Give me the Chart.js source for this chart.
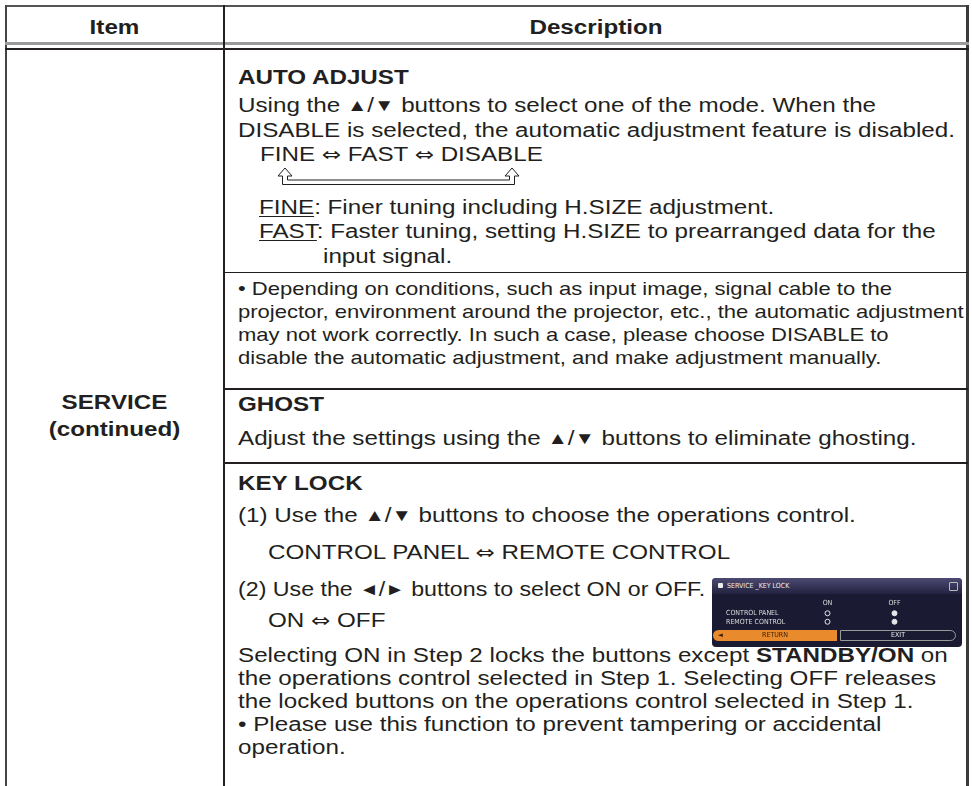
<!DOCTYPE html>
<html>
<head>
<meta charset="utf-8">
<script src="https://cdn.jsdelivr.net/npm/chart.js@4.4.1/dist/chart.umd.min.js"></script>
<style>
  body { margin: 0; background: #fff; width: 972px; height: 786px; overflow: hidden; position: relative;
         font-family: "Liberation Sans", Arial, sans-serif; color: #231f20; }
  .abs { position: absolute; }
  .ln { position: absolute; white-space: nowrap; font-size: 20px; line-height: 24px;
        transform: scaleX(1.21); transform-origin: 0 0; }
  .ctr { transform-origin: 50% 0; text-align: center; }
  .sm { font-size: 18.5px; transform: scaleX(1.19); }
  .b { font-weight: bold; }
  .hl { position: absolute; background: #231f20; }
  u { text-decoration-thickness: 1px; text-underline-offset: 2px; }
  .arr { font-family: "DejaVu Sans", sans-serif; font-size: 19px; }
  .tri { font-size: 17px; position: relative; top: -1px; }
  #panel { position: absolute; left: 712px; top: 578px; width: 250px; height: 69px; background: #1b1a33;
           border-radius: 4px; overflow: hidden; font-family: "DejaVu Sans Condensed", "DejaVu Sans", sans-serif; }
  #panel .title { position: absolute; left: 0; top: 0; width: 250px; height: 16px;
           background: linear-gradient(#4c4a72, #23223f); color: #eee; font-size: 7px; line-height: 17px; }
  #panel .ret { position: absolute; left: 1px; top: 52px; width: 124px; height: 11px; background: #e98a2c;
           border-radius: 6px 0 0 6px; color: #3a1e05; font-size: 7px; line-height: 11px; }
  #panel .exit { position: absolute; left: 128px; top: 52px; width: 114px; height: 9px; border: 1px solid #9a9a9a;
           border-radius: 0 6px 6px 0; color: #eee; font-size: 7px; line-height: 9px; text-align: center; }
</style>
</head>
<body>
<!-- table frame -->
<div class="hl" style="left:5px;top:5px;width:964px;height:2px;background:#555"></div>
<div class="hl" style="left:5px;top:5px;width:2px;height:781px;background:#444"></div>
<div class="hl" style="left:966px;top:5px;width:3px;height:781px;background:#3a3a3a"></div>
<div class="hl" style="left:5px;top:42px;width:964px;height:3px;background:#9b9b9b"></div>
<div class="hl" style="left:5px;top:48px;width:964px;height:1.5px"></div>
<div class="hl" style="left:223px;top:5px;width:1.5px;height:781px"></div>
<div class="hl" style="left:224px;top:272px;width:744px;height:1px"></div>
<div class="hl" style="left:224px;top:388px;width:744px;height:1.5px"></div>
<div class="hl" style="left:224px;top:462px;width:744px;height:1.5px"></div>

<!-- header -->
<div class="ln b ctr" style="left:5px;width:219px;top:15px">Item</div>
<div class="ln b ctr" style="left:224px;width:744px;top:15px">Description</div>

<!-- item column -->
<div class="ln b ctr" style="left:5px;width:219px;top:389px;line-height:27px">SERVICE<br>(continued)</div>

<!-- AUTO ADJUST -->
<div class="ln b" style="left:238px;top:65px">AUTO ADJUST</div>
<div class="ln" style="left:238px;top:93px">Using the <span class="tri">▲</span>/<span class="tri">▼</span> buttons to select one of the mode. When the</div>
<div class="ln" style="left:238px;top:118px">DISABLE is selected, the automatic adjustment feature is disabled.</div>
<div class="ln" style="left:260px;top:142px">FINE <span class="arr">⇔</span> FAST <span class="arr">⇔</span> DISABLE</div>
<svg class="abs" style="left:0;top:0" width="972" height="786">
  <path d="M285 168 L292 176 L287.5 176 L287.5 180 L509.5 180 L509.5 176 L505 176 L512 168 L519 176 L514.5 176 L514.5 184.5 L282.5 184.5 L282.5 176 L278 176 Z"
        fill="#fff" stroke="#231f20" stroke-width="1"/>
</svg>
<div class="ln" style="left:259px;top:195px"><u>FINE</u>: Finer tuning including H.SIZE adjustment.</div>
<div class="ln" style="left:259px;top:219px"><u>FAST</u>: Faster tuning, setting H.SIZE to prearranged data for the</div>
<div class="ln" style="left:323px;top:244px">input signal.</div>

<div class="ln sm" style="left:238px;top:277px">• Depending on conditions, such as input image, signal cable to the</div>
<div class="ln sm" style="left:238px;top:300px">projector, environment around the projector, etc., the automatic adjustment</div>
<div class="ln sm" style="left:238px;top:323px">may not work correctly.  In such a case, please choose DISABLE to</div>
<div class="ln sm" style="left:238px;top:346px">disable the automatic adjustment, and make adjustment manually.</div>

<!-- GHOST -->
<div class="ln b" style="left:238px;top:392px">GHOST</div>
<div class="ln" style="left:238px;top:426px">Adjust the settings using the <span class="tri">▲</span>/<span class="tri">▼</span> buttons to eliminate ghosting.</div>

<!-- KEY LOCK -->
<div class="ln b" style="left:238px;top:471px">KEY LOCK</div>
<div class="ln" style="left:238px;top:503px">(1) Use the <span class="tri">▲</span>/<span class="tri">▼</span> buttons to choose the operations control.</div>
<div class="ln" style="left:268px;top:540px">CONTROL PANEL <span class="arr">⇔</span> REMOTE CONTROL</div>
<div class="ln" style="left:238px;top:577px;transform:scaleX(1.16)">(2) Use the <span class="tri">◄</span>/<span class="tri">►</span> buttons to select ON or OFF.</div>
<div class="ln" style="left:268px;top:608px">ON <span class="arr">⇔</span> OFF</div>
<div class="ln" style="left:238px;top:643px">Selecting ON in Step 2 locks the buttons except <b>STANDBY/ON</b> on</div>
<div class="ln" style="left:238px;top:666px">the operations control selected in Step 1. Selecting OFF releases</div>
<div class="ln" style="left:238px;top:689px">the locked buttons on the operations control selected in Step 1.</div>
<div class="ln" style="left:238px;top:712px">• Please use this function to prevent tampering or accidental</div>
<div class="ln" style="left:238px;top:735px">operation.</div>

<!-- on-screen menu thumbnail -->
<div id="panel">
  <div class="title"><span style="display:inline-block;width:5px;height:5px;background:#eee;margin:0 4px 0 6px;border-radius:1px"></span>SERVICE _KEY LOCK
    <span style="position:absolute;right:4px;top:4px;width:7px;height:7px;border:1px solid #bbb;border-radius:1px"></span></div>
  <canvas id="menu" width="250" height="37" style="position:absolute;left:0;top:16px"></canvas>
  <div class="ret"><span style="position:absolute;left:5px">◄</span><span style="position:absolute;left:0;width:124px;text-align:center">RETURN</span></div>
  <div class="exit">EXIT</div>
</div>

<script>
// Key lock menu contents
var lockRows = ['CONTROL PANEL', 'REMOTE CONTROL'];
var lockCols = ['ON', 'OFF'];
var lockSelected = ['OFF', 'OFF']; // selected column for each row

// Build one point per row/column pair
var points = [];
var fills = [];
for (var i = 0; i < lockRows.length; i++) {
    for (var j = 0; j < lockCols.length; j++) {
        points.push({ x: lockCols[j], y: lockRows[i] });
        fills.push(lockSelected[i] === lockCols[j] ? '#e6e6e6' : 'rgba(0,0,0,0)');
    }
}

var tickFont = { family: 'DejaVu Sans Condensed', size: 7 };

var ctx = document.getElementById('menu').getContext('2d');
window.menuChart = new Chart(ctx, {
    type: 'scatter',
    data: {
        datasets: [{
            data: points,
            pointRadius: 2.5,
            pointBorderWidth: 1,
            pointBorderColor: '#e6e6e6',
            pointBackgroundColor: fills
        }]
    },
    options: {
        responsive: false,
        animation: false,
        layout: { padding: { left: 14, right: 34, top: 0, bottom: 0 } },
        plugins: { legend: { display: false }, tooltip: { enabled: false } },
        scales: {
            x: {
                type: 'category',
                labels: lockCols,
                position: 'top',
                offset: true,
                grid: { display: false, drawTicks: false },
                border: { display: false },
                ticks: { color: '#dddddd', font: tickFont, padding: 2, maxRotation: 0 },
                afterFit: function (scale) { scale.height = 15; }
            },
            y: {
                type: 'category',
                labels: lockRows,
                offset: true,
                grid: { display: false, drawTicks: false },
                border: { display: false },
                ticks: { color: '#dddddd', font: tickFont, padding: 0, crossAlign: 'far', autoSkip: false },
                afterFit: function (scale) { scale.width = 68; }
            }
        }
    }
});
</script>
</body>
</html>
